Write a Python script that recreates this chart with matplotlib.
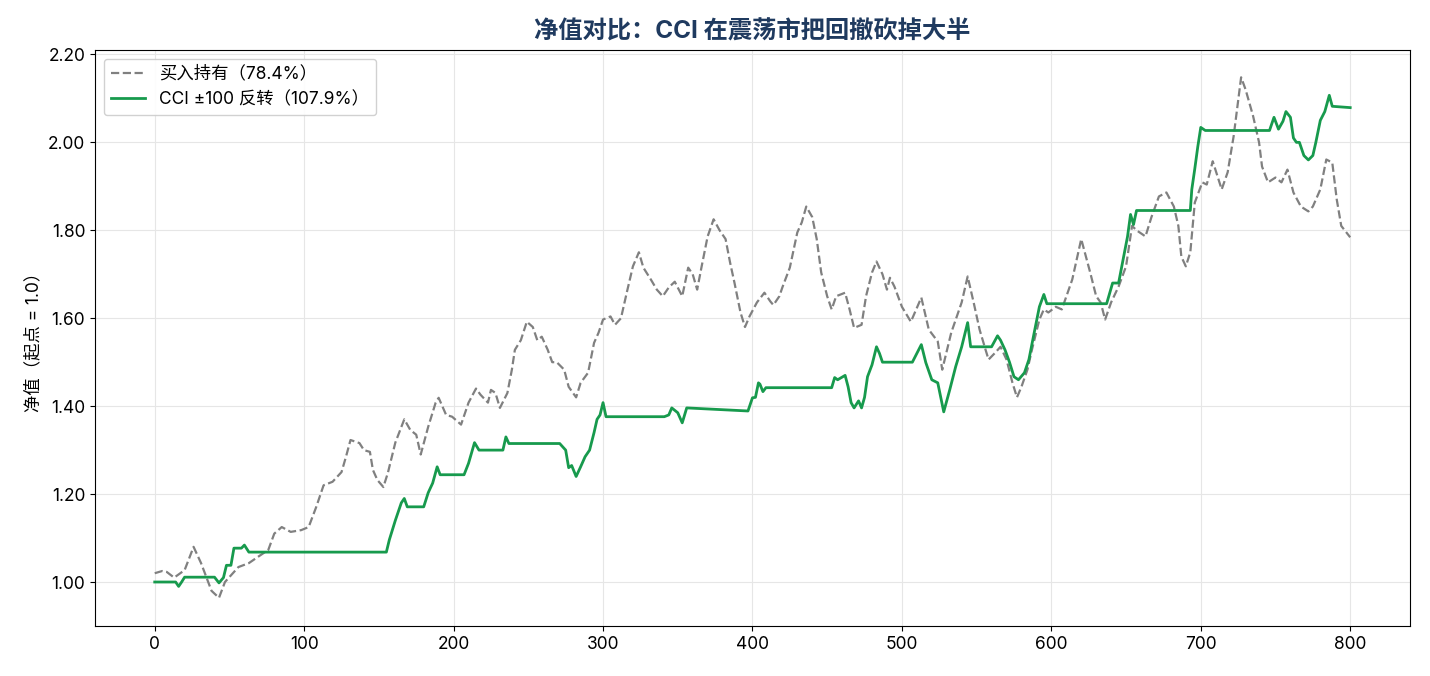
import matplotlib
matplotlib.use("Agg")
import matplotlib.pyplot as plt
from matplotlib.ticker import FormatStrFormatter

# ---- data ------------------------------------------------------------------
bh_x = [0, 5, 8, 13, 20, 26, 31, 38, 43, 47, 56, 63, 69, 76, 80, 85, 91, 98, 103, 108,
        113, 119, 125, 128, 131, 137, 140, 144, 146, 149, 153, 156, 161, 167, 171, 175,
        178, 183, 188, 190, 195, 199, 205, 210, 215, 218, 223, 225, 228, 231, 236, 239,
        241, 245, 249, 253, 256, 259, 263, 266, 269, 274, 277, 282, 285, 290, 294, 297,
        300, 305, 308, 312, 316, 320, 324, 327, 332, 336, 340, 344, 348, 353, 357, 360,
        363, 366, 370, 374, 378, 382, 385, 388, 392, 395, 398, 403, 408, 412, 414, 418,
        420, 425, 430, 433, 436, 440, 443, 446, 450, 453, 456, 462, 465, 468, 473, 476,
        480, 483, 487, 490, 492, 495, 500, 506, 513, 518, 524, 527, 533, 540, 544, 548,
        552, 556, 558, 562, 566, 570, 574, 577, 580, 584, 587, 592, 595, 598, 603, 607,
        614, 620, 626, 630, 633, 636, 640, 645, 650, 654, 657, 663, 667, 672, 677, 682,
        685, 687, 690, 693, 696, 701, 704, 708, 714, 718, 722, 727, 730, 735, 739, 741,
        745, 750, 754, 758, 762, 767, 772, 775, 780, 784, 788, 791, 794, 797, 800]
bh_y = [1.02, 1.025, 1.023, 1.01, 1.027, 1.08, 1.043, 0.98, 0.964, 1.0, 1.034, 1.043,
        1.057, 1.073, 1.11, 1.125, 1.114, 1.118, 1.125, 1.17, 1.22, 1.228, 1.25, 1.285,
        1.323, 1.316, 1.30, 1.296, 1.255, 1.232, 1.216, 1.248, 1.317, 1.37, 1.346, 1.335,
        1.29, 1.353, 1.408, 1.419, 1.38, 1.376, 1.358, 1.408, 1.44, 1.426, 1.408, 1.437,
        1.43, 1.396, 1.43, 1.483, 1.528, 1.55, 1.592, 1.58, 1.55, 1.558, 1.528, 1.50,
        1.50, 1.483, 1.444, 1.42, 1.453, 1.476, 1.544, 1.567, 1.597, 1.604, 1.585, 1.60,
        1.66, 1.718, 1.75, 1.715, 1.688, 1.665, 1.65, 1.67, 1.683, 1.65, 1.715, 1.70,
        1.665, 1.718, 1.786, 1.825, 1.80, 1.78, 1.727, 1.68, 1.613, 1.58, 1.604, 1.636,
        1.658, 1.638, 1.63, 1.65, 1.67, 1.715, 1.795, 1.818, 1.854, 1.83, 1.78, 1.704,
        1.65, 1.62, 1.65, 1.658, 1.62, 1.578, 1.585, 1.65, 1.704, 1.729, 1.70, 1.665,
        1.692, 1.672, 1.626, 1.592, 1.647, 1.574, 1.547, 1.483, 1.567, 1.636, 1.695,
        1.636, 1.574, 1.528, 1.506, 1.52, 1.535, 1.506, 1.453, 1.42, 1.444, 1.483, 1.528,
        1.597, 1.62, 1.613, 1.626, 1.62, 1.688, 1.78, 1.704, 1.65, 1.636, 1.597, 1.636,
        1.672, 1.718, 1.81, 1.80, 1.786, 1.83, 1.877, 1.886, 1.854, 1.81, 1.74, 1.718,
        1.75, 1.863, 1.909, 1.904, 1.957, 1.893, 1.932, 2.014, 2.148, 2.12, 2.06, 2.0,
        1.945, 1.909, 1.92, 1.909, 1.938, 1.886, 1.854, 1.843, 1.854, 1.893, 1.961,
        1.954, 1.87, 1.81, 1.797, 1.784]

cci_x = [0, 14, 16, 18, 20, 40, 43, 46, 48, 51, 53, 58, 60, 63, 155, 157, 161, 165, 167,
         169, 180, 183, 186, 189, 191, 207, 210, 214, 217, 233, 235, 237, 271, 275, 277,
         279, 282, 285, 288, 291, 294, 296, 298, 300, 302, 341, 344, 346, 350, 353, 356,
         397, 400, 402, 404, 405, 407, 409, 453, 455, 457, 462, 464, 466, 468, 471, 473,
         475, 477, 480, 483, 485, 487, 507, 513, 516, 520, 524, 528, 532, 536, 540, 544,
         546, 560, 564, 566, 569, 572, 575, 578, 582, 585, 588, 592, 595, 597, 637, 641,
         643, 645, 648, 651, 653, 655, 657, 693, 694, 696, 698, 700, 703, 746, 749, 752,
         755, 757, 760, 762, 764, 766, 769, 772, 775, 777, 780, 783, 786, 788, 800]
cci_y = [1.0, 1.0, 0.99, 1.0, 1.011, 1.011, 0.998, 1.01, 1.038, 1.038, 1.077, 1.077,
         1.084, 1.068, 1.068, 1.096, 1.14, 1.18, 1.19, 1.171, 1.171, 1.203, 1.225, 1.262,
         1.244, 1.244, 1.27, 1.317, 1.30, 1.30, 1.33, 1.315, 1.315, 1.30, 1.26, 1.265,
         1.24, 1.262, 1.285, 1.30, 1.34, 1.37, 1.38, 1.408, 1.376, 1.376, 1.38, 1.396,
         1.385, 1.362, 1.396, 1.389, 1.419, 1.42, 1.453, 1.45, 1.433, 1.442, 1.442, 1.465,
         1.46, 1.47, 1.444, 1.408, 1.396, 1.412, 1.396, 1.42, 1.467, 1.494, 1.535, 1.52,
         1.50, 1.50, 1.54, 1.499, 1.46, 1.453, 1.387, 1.437, 1.49, 1.535, 1.59, 1.535,
         1.535, 1.56, 1.55, 1.528, 1.50, 1.467, 1.46, 1.476, 1.506, 1.558, 1.626, 1.654,
         1.633, 1.633, 1.68, 1.68, 1.68, 1.733, 1.786, 1.836, 1.813, 1.845, 1.845, 1.893,
         1.94, 1.99, 2.034, 2.027, 2.027, 2.057, 2.03, 2.048, 2.07, 2.057, 2.01, 2.0, 2.0,
         1.97, 1.96, 1.97, 2.0, 2.05, 2.07, 2.107, 2.082, 2.079]

bh_label = "买入持有（78.4%）"
cci_label = "CCI ±100 反转（107.9%）"

# ---- plot -------------------------------------------------------------------
plt.rcParams["font.family"] = ["Inter", "Noto Sans CJK SC", "DejaVu Sans"]
plt.rcParams["font.size"] = 12.5

fig = plt.figure(figsize=(14.3, 6.76), dpi=100)
ax = fig.add_axes([0.0664, 0.074, 0.9196, 0.852])

ax.plot(bh_x, bh_y, ls="--", color="#808080", lw=1.6, label=bh_label)
ax.plot(cci_x, cci_y, color="#179a4d", lw=2.0, label=cci_label)

ax.set_xlim(-40, 840)
ax.set_ylim(0.90, 2.21)
ax.set_xticks([0, 100, 200, 300, 400, 500, 600, 700, 800])
ax.set_yticks([1.0, 1.2, 1.4, 1.6, 1.8, 2.0, 2.2])
ax.yaxis.set_major_formatter(FormatStrFormatter("%.2f"))
ax.tick_params(labelsize=12.5)
ax.grid(True, color="#e6e6e6", lw=0.8)
ax.set_axisbelow(True)

ax.set_ylabel("净值（起点 = 1.0）", fontsize=12.5)
ax.set_title("净值对比：CCI 在震荡市把回撤砍掉大半", fontsize=17.5, fontweight="bold",
             color="#1f3a5f", pad=8)
ax.legend(loc="upper left", fontsize=12.5, framealpha=0.9)

fig.savefig("out.png", dpi=100)
